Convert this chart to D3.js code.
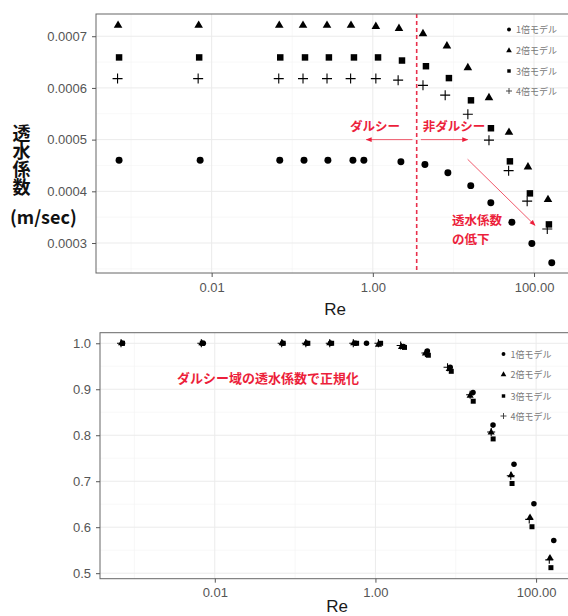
<!DOCTYPE html>
<html><head><meta charset="utf-8">
<script src="https://cdn.jsdelivr.net/npm/d3@7"></script>
<style>body{margin:0;background:#fff}svg{display:block}</style>
</head><body>
<svg id="c" width="568" height="616"></svg>
<script>
// ---------- data ----------
const models = ["1倍モデル", "2倍モデル", "3倍モデル", "4倍モデル"];
// Reynolds numbers per model
const re1 = [0.00071, 0.0072, 0.070, 0.140, 0.277, 0.566, 0.774, 2.23, 4.43, 8.53, 16.4, 29.1, 53.1, 94.0, 166];
const re2 = [0.00069, 0.0069, 0.069, 0.136, 0.270, 0.536, 1.09, 2.11, 4.19, 8.30, 15.1, 27.6, 48.9, 84.1, 149];
const re3 = [0.00071, 0.0070, 0.071, 0.144, 0.285, 0.583, 1.16, 2.30, 4.56, 8.79, 16.5, 29.2, 50.2, 88.9, 153];
const re4 = [0.00068, 0.0068, 0.068, 0.136, 0.270, 0.530, 1.09, 2.06, 4.19, 7.90, 15.1, 27.6, 48.4, 82.2, 146];
// permeability coefficient (m/sec)
const k1 = [0.000460, 0.000460, 0.000460, 0.000460, 0.000460, 0.000460, 0.000460, 0.000457, 0.000452, 0.000436, 0.000411, 0.000378, 0.000340, 0.000299, 0.000262];
const k2 = [0.000721, 0.000721, 0.000721, 0.000721, 0.000721, 0.000721, 0.000719, 0.000715, 0.000705, 0.000681, 0.000639, 0.000581, 0.000514, 0.000447, 0.000384];
const k3 = [0.000659, 0.000659, 0.000659, 0.000659, 0.000659, 0.000659, 0.000659, 0.000653, 0.000642, 0.000619, 0.000576, 0.000522, 0.000458, 0.000396, 0.000336];
const k4 = [0.000618, 0.000618, 0.000618, 0.000618, 0.000618, 0.000618, 0.000618, 0.000615, 0.000605, 0.000586, 0.000549, 0.000499, 0.000440, 0.000381, 0.000327];
// normalised by Darcy-region permeability
const n1 = [1, 1, 1, 1, 1, 1, 1, 0.993, 0.983, 0.948, 0.893, 0.822, 0.737, 0.651, 0.571];
const n2 = [1, 1, 1, 1, 1, 1, 0.997, 0.992, 0.978, 0.944, 0.886, 0.806, 0.713, 0.621, 0.533];
const n3 = [1, 1, 1, 1, 1, 1, 1, 0.991, 0.974, 0.939, 0.874, 0.792, 0.695, 0.601, 0.512];
const n4 = [1, 1, 1, 1, 1, 1, 1, 0.995, 0.979, 0.948, 0.888, 0.807, 0.712, 0.617, 0.529];

const xTicks = [0.01, 1, 100];
const xTickLabels = ["0.01", "1.00", "100.00"];
const xMinor = [0.001, 0.1, 10];
const yTicksTop = [0.0003, 0.0004, 0.0005, 0.0006, 0.0007];
const yMinorTop = [0.00025, 0.00035, 0.00045, 0.00055, 0.00065];
const yTicksBot = [0.5, 0.6, 0.7, 0.8, 0.9, 1.0];
const yMinorBot = [0.55, 0.65, 0.75, 0.85, 0.95];
const darcyLimit = 3.5;
const yTitleMain = "透水係数";
const yTitleUnit = "(m/sec)";

// ---------- drawing ----------
const svg = d3.select("#c");
const RED = "#ec1f3b";
const SANS = "'Liberation Sans', Arial, sans-serif";
const CJK = "'Noto Sans CJK JP', 'Noto Sans', sans-serif";

const plusType = {
  draw(ctx, size) {
    const r = Math.sqrt(size) / 2;
    ctx.moveTo(-r, 0); ctx.lineTo(r, 0);
    ctx.moveTo(0, -r); ctx.lineTo(0, r);
  }
};
const shapes = [d3.symbolCircle, d3.symbolTriangle, d3.symbolSquare, plusType];

const defs = svg.append("defs");
defs.append("marker").attr("id", "ah").attr("viewBox", "0 0 10 10")
  .attr("refX", 9).attr("refY", 5).attr("markerWidth", 6).attr("markerHeight", 6)
  .attr("orient", "auto").attr("markerUnits", "userSpaceOnUse")
  .append("path").attr("d", "M0,1L10,5L0,9Z").attr("fill", RED);

function panel(cfg) {
  const x = d3.scaleLog().domain(cfg.xDomain).range([cfg.left, cfg.right]);
  const y = d3.scaleLinear().domain(cfg.yDomain).range([cfg.bottom, cfg.top]);
  const g = svg.append("g");
  // grid
  g.selectAll(".ymin").data(cfg.yMinor).enter().append("line")
    .attr("x1", cfg.left).attr("x2", cfg.right).attr("y1", d => y(d)).attr("y2", d => y(d))
    .attr("stroke", "#f4f4f4").attr("stroke-width", 0.6);
  g.selectAll(".xmin").data(xMinor).enter().append("line")
    .attr("y1", cfg.top).attr("y2", cfg.bottom).attr("x1", d => x(d)).attr("x2", d => x(d))
    .attr("stroke", "#f4f4f4").attr("stroke-width", 0.6);
  g.selectAll(".ymaj").data(cfg.yTicks).enter().append("line")
    .attr("x1", cfg.left).attr("x2", cfg.right).attr("y1", d => y(d)).attr("y2", d => y(d))
    .attr("stroke", "#ebebeb").attr("stroke-width", 1);
  g.selectAll(".xmaj").data(xTicks).enter().append("line")
    .attr("y1", cfg.top).attr("y2", cfg.bottom).attr("x1", d => x(d)).attr("x2", d => x(d))
    .attr("stroke", "#ebebeb").attr("stroke-width", 1);

  if (cfg.before) cfg.before(g, x, y);

  // points
  cfg.series.forEach((s, i) => {
    const sym = d3.symbol().type(shapes[i]).size(cfg.sizes[i]);
    g.selectAll(null).data(s.re.map((r, j) => [r, s.v[j]])).enter().append("path")
      .attr("d", sym)
      .attr("transform", d => `translate(${x(d[0])},${y(d[1])})`)
      .attr("fill", i === 3 ? "none" : "#000")
      .attr("stroke", i === 3 ? "#000" : "none")
      .attr("stroke-width", cfg.plusStroke);
  });

  // border
  g.append("rect").attr("x", cfg.left).attr("y", cfg.top)
    .attr("width", cfg.right - cfg.left).attr("height", cfg.bottom - cfg.top)
    .attr("fill", "none").attr("stroke", "#666").attr("stroke-width", 1);

  // axes
  const ax = g.append("g").attr("transform", `translate(0,${cfg.bottom})`)
    .call(d3.axisBottom(x).tickValues(xTicks).tickFormat((d, i) => xTickLabels[i]).tickSize(4).tickPadding(5.4));
  const ay = g.append("g").attr("transform", `translate(${cfg.left},0)`)
    .call(d3.axisLeft(y).tickValues(cfg.yTicks).tickFormat(cfg.yFormat).tickSize(4).tickPadding(cfg.yPad));
  [ax, ay].forEach(a => {
    a.select(".domain").remove();
    a.selectAll(".tick line").attr("stroke", "#555");
    a.selectAll(".tick text").attr("fill", "#555").style("font-family", SANS).style("font-size", "13px");
  });

  // x title
  g.append("text").attr("x", (cfg.left + cfg.right) / 2).attr("y", cfg.xTitleY)
    .attr("text-anchor", "middle").style("font-family", SANS).style("font-size", "17px")
    .attr("fill", "#1a1a1a").text("Re");

  // legend
  const lg = g.append("g");
  models.forEach((m, i) => {
    const sym = d3.symbol().type(shapes[i]).size(cfg.legSizes[i]);
    lg.append("path").attr("d", sym)
      .attr("transform", `translate(${cfg.legX},${cfg.legY[i]})`)
      .attr("fill", i === 3 ? "none" : "#000")
      .attr("stroke", i === 3 ? "#333" : "none").attr("stroke-width", 0.9);
    lg.append("text").attr("x", cfg.legX + cfg.legGap).attr("y", cfg.legY[i])
      .attr("dominant-baseline", "central")
      .style("font-family", CJK).style("font-size", "9px").attr("fill", "#777").text(m);
  });

  if (cfg.after) cfg.after(g, x, y);
}

// ---------- top panel ----------
panel({
  left: 96, right: 574, top: 14, bottom: 273,
  xDomain: [Math.pow(10, -3.435), Math.pow(10, 2.496)],
  yDomain: [0.000242, 0.000743],
  yTicks: yTicksTop, yMinor: yMinorTop, yFormat: d3.format(".4f"), yPad: 5,
  series: [{re: re1, v: k1}, {re: re2, v: k2}, {re: re3, v: k3}, {re: re4, v: k4}],
  sizes: [38, 32, 42, 100], plusStroke: 1.1,
  xTitleY: 315,
  legX: 509, legGap: 7, legY: [29.5, 50.5, 71, 91], legSizes: [12, 14, 12, 36],
  before: (g, x, y) => {
    g.append("line").attr("x1", x(darcyLimit)).attr("x2", x(darcyLimit))
      .attr("y1", 14).attr("y2", 273).attr("stroke", "#e8304c")
      .attr("stroke-width", 1.6).attr("stroke-dasharray", "4,3");
  },
  after: (g, x, y) => {
    const ar = (a, b) => g.append("line")
      .attr("x1", x(a[0])).attr("y1", y(a[1])).attr("x2", x(b[0])).attr("y2", y(b[1]))
      .attr("stroke", "#f05a6c").attr("stroke-width", 1).attr("marker-end", "url(#ah)");
    ar([3.1, 0.0005], [0.83, 0.0005]);
    ar([3.95, 0.0005], [15, 0.0005]);
    ar([15, 0.000462], [103, 0.000334]);
    const t = (txt, px, py, anchor) => g.append("text").attr("x", px).attr("y", py)
      .attr("text-anchor", anchor).attr("dominant-baseline", "central")
      .style("font-family", CJK).style("font-weight", "bold").style("font-size", "12.5px")
      .attr("fill", RED).text(txt);
    t("ダルシー", 375, 125, "middle");
    t("非ダルシー", 454, 125, "middle");
    t("透水係数", 452, 219, "start");
    t("の低下", 452, 238, "start");
  }
});

// y title (top): vertical Japanese text plus unit below
svg.append("text").attr("x", 21.5).attr("y", 124)
  .attr("writing-mode", "vertical-rl").style("writing-mode", "vertical-rl")
  .style("font-family", CJK).style("font-weight", "bold")
  .style("font-size", "18px").attr("fill", "#111").text(yTitleMain);
svg.append("text").attr("x", 10).attr("y", 216).attr("dominant-baseline", "central")
  .style("font-family", CJK).style("font-weight", "bold")
  .style("font-size", "18px").attr("fill", "#111").text(yTitleUnit);

// ---------- bottom panel ----------
panel({
  left: 100, right: 574, top: 332.7, bottom: 578.7,
  xDomain: [Math.pow(10, -3.429), Math.pow(10, 2.472)],
  yDomain: [0.488, 1.023],
  yTicks: yTicksBot, yMinor: yMinorBot, yFormat: d3.format(".1f"), yPad: 5,
  series: [{re: re1, v: n1}, {re: re2, v: n2}, {re: re3, v: n3}, {re: re4, v: n4}],
  sizes: [24, 22, 25, 64], plusStroke: 1.1,
  xTitleY: 612,
  legX: 503.5, legGap: 7, legY: [354, 374.5, 396, 416], legSizes: [12, 14, 12, 36],
  after: (g, x, y) => {
    g.append("text").attr("x", 177).attr("y", 377).attr("dominant-baseline", "central")
      .style("font-family", CJK).style("font-weight", "bold").style("font-size", "13px")
      .attr("fill", RED).text("ダルシー域の透水係数で正規化");
  }
});
</script>
</body></html>
